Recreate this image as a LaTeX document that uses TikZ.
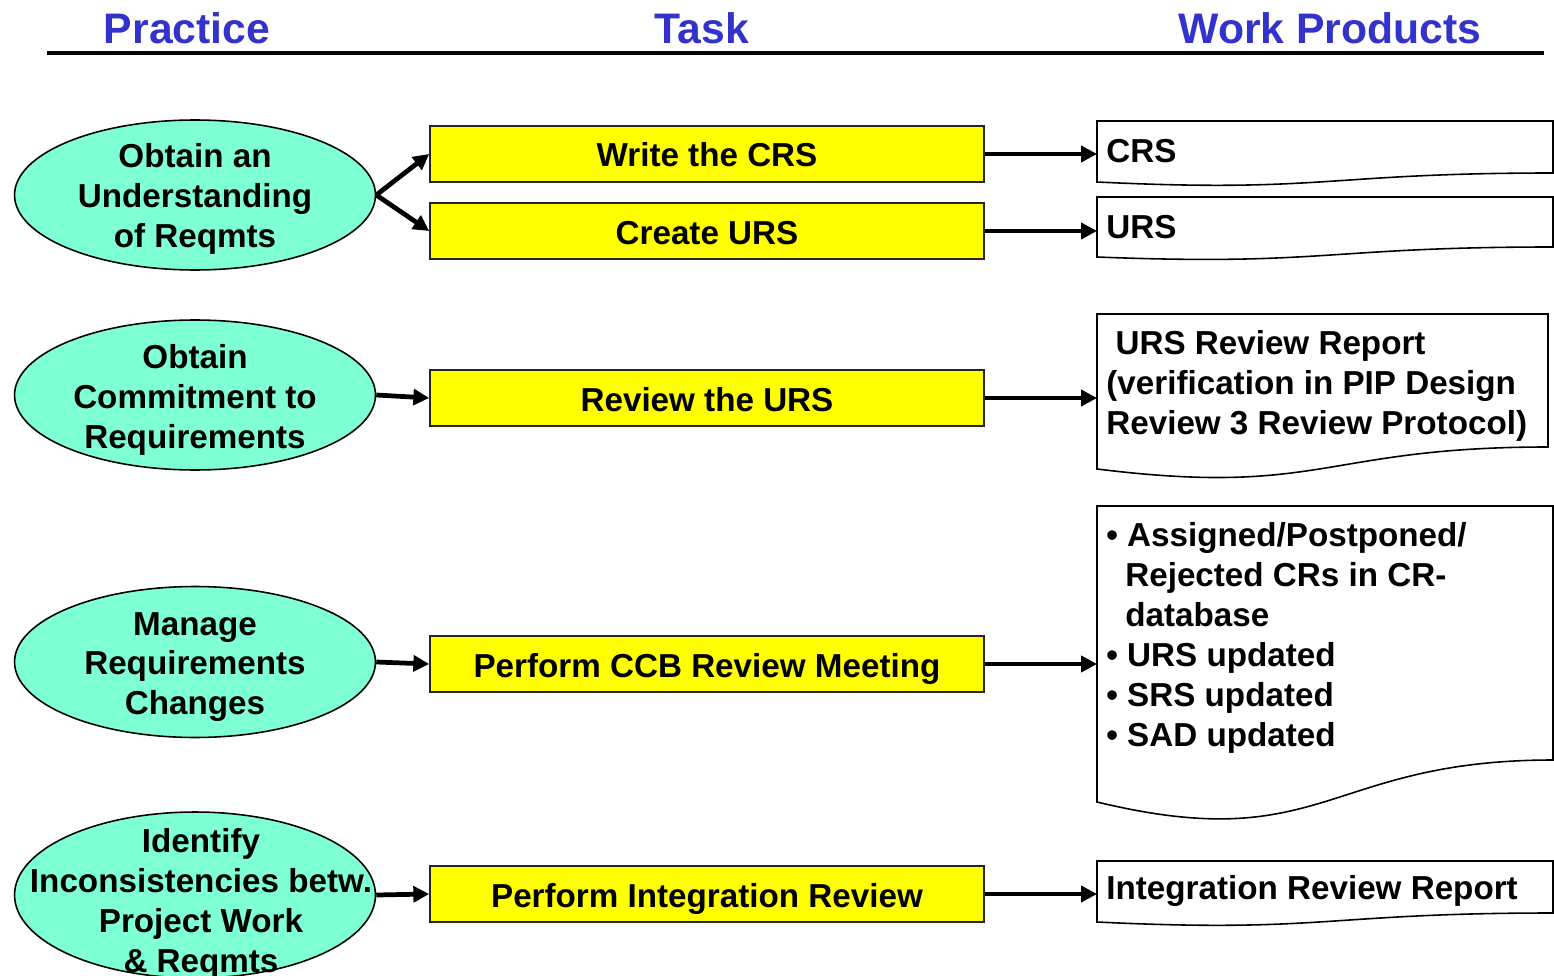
\documentclass[tikz,border=0pt]{standalone}
\usepackage{fontspec}
\setmainfont{Liberation Sans}
\usetikzlibrary{arrows.meta,shapes.geometric}
\definecolor{hdrblue}{RGB}{51,51,204}
\definecolor{aqua}{RGB}{127,255,212}
\definecolor{boxyellow}{RGB}{255,255,0}
\newcommand\mydoc[6]{% #1 L, #2 R, #3 top, #4 yR, #5 yL, #6 ctrl
  \draw[docline] (#2,#4) -- (#2,#3) -- (#1,#3) -- (#1,#5)
    .. controls ({(#1+#2)/2},#6) and ({(#1+#2)/2},#4) .. (#2,#4) -- cycle;}
\begin{document}
\begin{tikzpicture}[x=0.02cm,y=-0.02cm,
  hdr/.style={font=\fontsize{24.3}{28}\selectfont\bfseries, text=hdrblue, inner sep=0},
  practice/.style={ellipse, draw=black, line width=0.9pt, fill=aqua, inner sep=0},
  ptext/.style={font=\fontsize{18.9}{22.7}\selectfont\bfseries, align=center, inner sep=0},
  task/.style={draw=black!85, line width=1pt, fill=boxyellow, minimum width=11.08cm,
    minimum height=1.12cm, inner sep=0, text height=14.8pt, text depth=0pt,
    font=\fontsize{18.9}{22.7}\selectfont\bfseries},
  docbox/.style={rectangle, draw=none, inner sep=0, anchor=north west},
  docline/.style={draw=black, line width=0.9pt, fill=white},
  dtext/.style={font=\fontsize{18.9}{22.7}\selectfont\bfseries, align=left, inner sep=0, anchor=west},
  conn/.style={line width=2.7pt, -{Triangle[length=9pt,width=9pt]}}]
\useasboundingbox (0,0) rectangle (1554,976);
\fill[white] (0,0) rectangle (1554,976);

% headers
\node[hdr] (h1) at (187,28) {Practice};
\node[hdr] (h2) at (702,28) {Task};
\node[hdr] (h3) at (1330,28) {Work Products};
\draw[line width=2.2pt] (47,53) -- (1544,53);

% practices
\node[practice, minimum width=7.22cm, minimum height=3.0cm] (p1) at (195,195) {};
\node[practice, minimum width=7.22cm, minimum height=3.0cm] (p2) at (195,395) {};
\node[practice, minimum width=7.22cm, minimum height=3.02cm] (p3) at (195,662) {};
\node[practice, minimum width=7.22cm, minimum height=3.32cm] (p4) at (195,895) {};
\node[ptext] (p1t) at (195,199) {Obtain an\\Understanding\\of Reqmts};
\node[ptext] (p2t) at (195,400) {Obtain\\Commitment to\\Requirements};
\node[ptext] (p3t) at (195,667) {Manage\\Requirements\\Changes};
\node[ptext] (p4t) at (201,904) {Identify\\Inconsistencies betw.\\Project Work\\\& Reqmts};

% tasks
\node[task] (t1) at (707,154) {Write the CRS};
\node[task] (t2) at (707,231) {Create URS};
\node[task] (t3) at (707,398) {Review the URS};
\node[task] (t4) at (707,664) {Perform CCB Review Meeting};
\node[task] (t5) at (707,894) {Perform Integration Review};

% work products
\mydoc{1097}{1553}{121}{173}{182}{193}
\mydoc{1097}{1553}{197}{247}{257}{266}
\mydoc{1097}{1548}{314}{447}{469}{497}
\mydoc{1097}{1553}{506}{760}{802}{857}
\mydoc{1097}{1553}{861}{913}{922}{933}
\node[docbox, minimum width=9.12cm, minimum height=1.04cm] (d1) at (1097,121) {};
\node[docbox, minimum width=9.12cm, minimum height=1.0cm] (d2) at (1097,197) {};
\node[docbox, minimum width=9.02cm, minimum height=2.66cm] (d3) at (1097,314) {};
\node[docbox, minimum width=9.12cm, minimum height=5.08cm] (d4) at (1097,506) {};
\node[docbox, minimum width=9.12cm, minimum height=1.04cm] (d5) at (1097,861) {};
\node[dtext] (d1t) at (1106,151) {CRS};
\node[dtext] (d2t) at (1106,227) {URS};
\node[dtext] (d3t) at (1106,386) {\ URS Review Report\\(verification in PIP Design\\Review 3 Review Protocol)};
\node[dtext] (d4t) at (1106,638) {•\ Assigned/Postponed/\\\hspace*{10.8pt}Rejected CRs in CR-\\\hspace*{10.8pt}database\\•\ URS updated\\•\ SRS updated\\•\ SAD updated};
\node[dtext] (d5t) at (1106,891) {Integration Review Report};

% connectors
\draw[conn] (p1.east) -- (t1.west);
\draw[conn] (p1.east) -- (t2.west);
\draw[conn] (p2.east) -- (t3.west);
\draw[conn] (p3.east) -- (t4.west);
\draw[conn] (p4.east) -- (t5.west);
\draw[conn] (t1.east) -- (t1.east -| d1.west);
\draw[conn] (t2.east) -- (t2.east -| d2.west);
\draw[conn] (t3.east) -- (t3.east -| d3.west);
\draw[conn] (t4.east) -- (t4.east -| d4.west);
\draw[conn] (t5.east) -- (t5.east -| d5.west);
\end{tikzpicture}
\end{document}
